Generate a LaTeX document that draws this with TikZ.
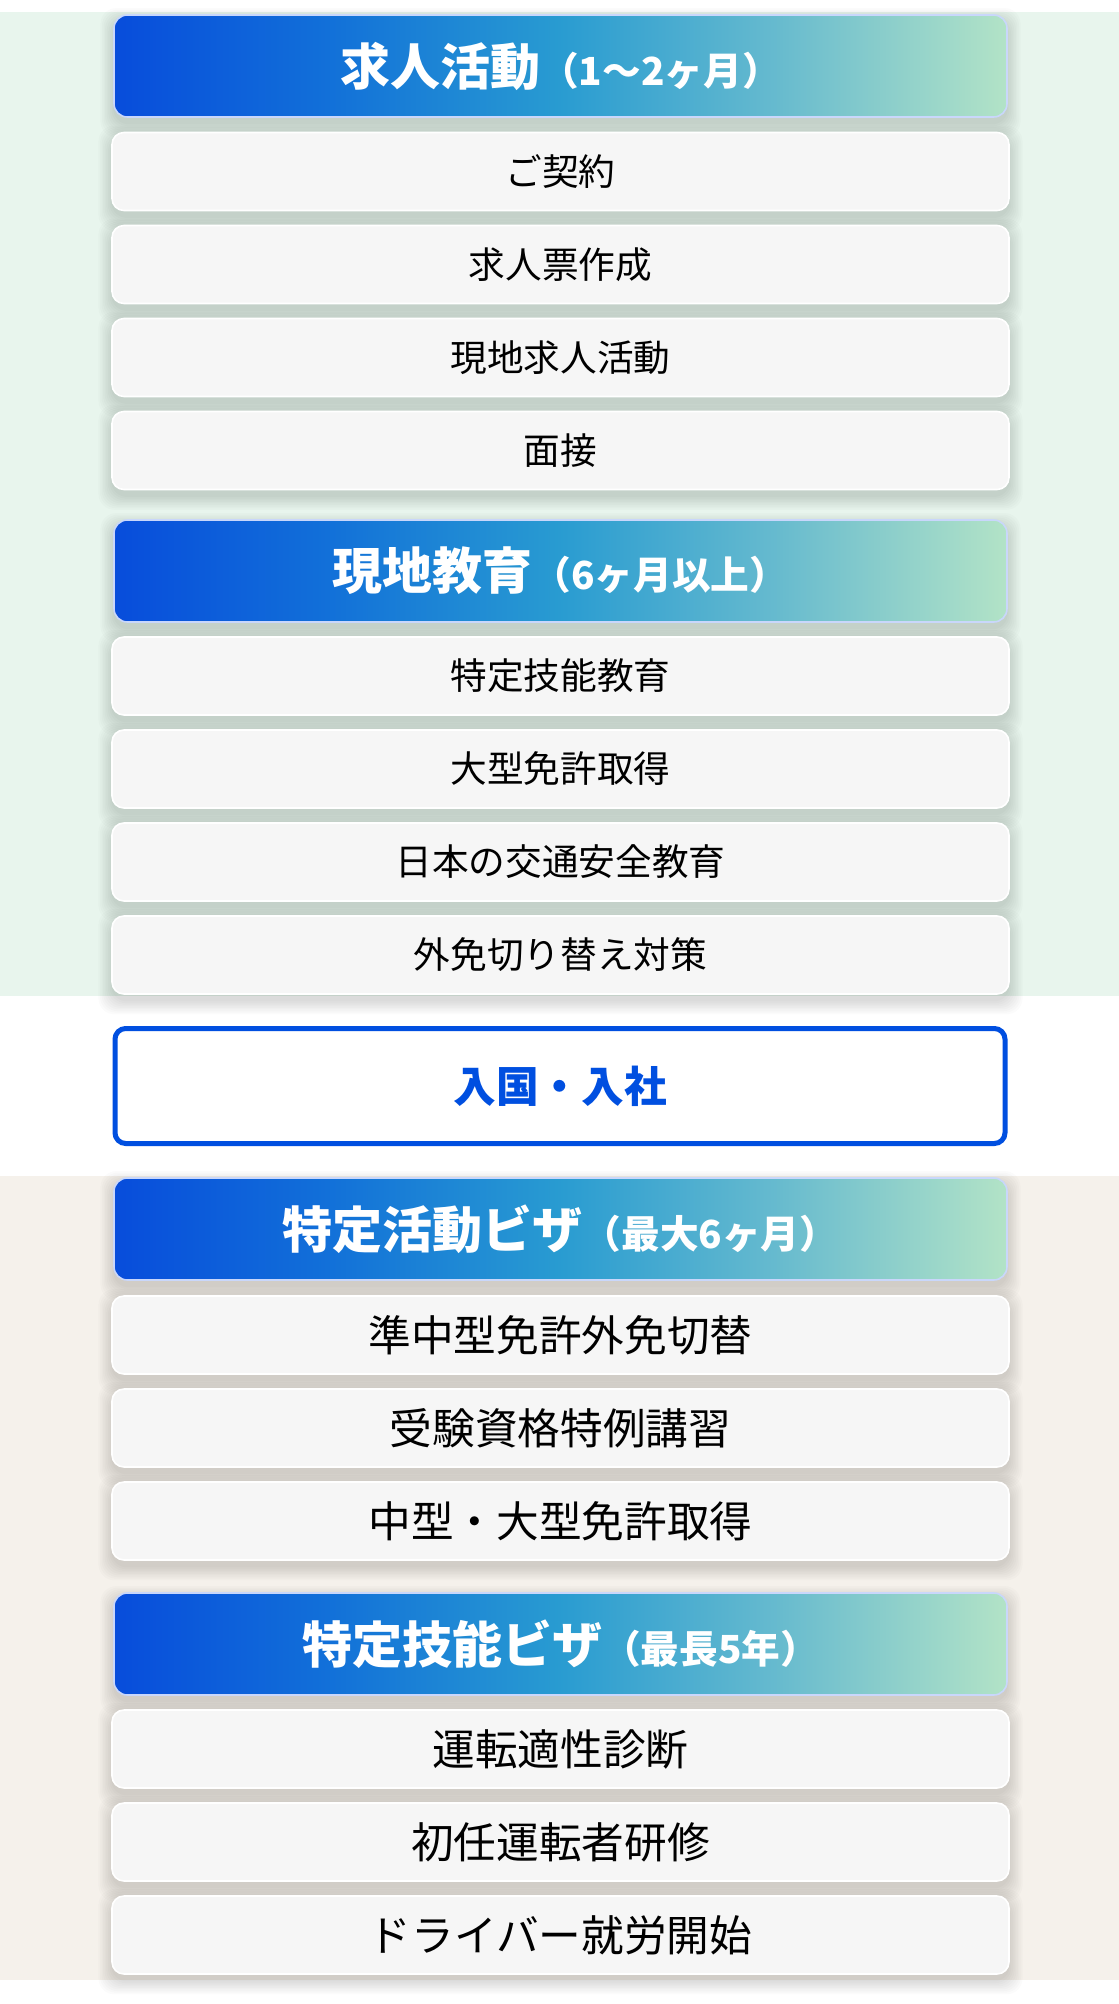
\documentclass[tikz,border=0pt]{standalone}
\usepackage{fontspec}
\setmainfont{Noto Sans CJK JP}
\usepackage{xcolor}
\usepackage{tikz}

\definecolor{bgmint}{HTML}{E8F5ED}
\definecolor{bgsand}{HTML}{F5F1EB}
\definecolor{glow}{HTML}{C9D7FB}
\definecolor{cardgray}{HTML}{F6F6F6}
\definecolor{entryblue}{HTML}{004FE0}
\pgfdeclarehorizontalshading{headfade}{100bp}{
    rgb(0bp)=(0.03,0.30,0.86); rgb(25bp)=(0.03,0.30,0.86);
    rgb(37bp)=(0.07,0.44,0.85); rgb(50bp)=(0.16,0.61,0.82);
    rgb(62bp)=(0.40,0.73,0.81); rgb(75bp)=(0.70,0.89,0.78);
    rgb(100bp)=(0.70,0.89,0.78)}
\pgfdeclarelayer{paper}
\pgfdeclarelayer{shade}
\pgfsetlayers{paper,shade,main}

\begin{document}
\begin{tikzpicture}[
    x=0.75pt, y=-0.75pt,
    head/.style={rectangle, rounded corners=10pt, minimum width=669.75pt, minimum height=76.5pt, inner sep=0pt,
        shading=headfade, draw=glow, line width=1.2pt,
        text=white, font=\bfseries\fontsize{37.5}{37.5}\selectfont},
    card/.style={rectangle, rounded corners=9pt, minimum width=672.75pt, minimum height=58.5pt, inner sep=0pt,
        fill=cardgray, draw=white, line width=1.2pt},
    small/.style={card, font=\fontsize{27.5}{27.5}\selectfont},
    large/.style={card, font=\fontsize{32}{32}\selectfont},
    entrybox/.style={rectangle, rounded corners=8pt, minimum width=667.5pt, minimum height=86.25pt, inner sep=0pt,
        fill=white, draw=entryblue, line width=3.75pt, text=entryblue, font=\bfseries\fontsize{32}{32}\selectfont},
    sub/.style={font=\bfseries\fontsize{29}{29}\selectfont},
    haze/.style={fill=black, opacity=0.017, rounded corners=12pt}
]
    \useasboundingbox (0,0) rectangle (1119,2004);
    \begin{pgfonlayer}{paper}
        \fill[white] (0,0) rectangle (1119,2004);
        \fill[bgmint] (0,12) rectangle (1119,996);
        \fill[bgsand] (0,1176) rectangle (1119,1980);
    \end{pgfonlayer}

    % before entry
    \node[head] (hd1) at (560.5,66) {求人活動{\fontsize{29}{29}\selectfont （1〜2ヶ月）}};
    \node[small] (job1) at (560.5,171.5) {ご契約};
    \node[small] (job2) at (560.5,264.5) {求人票作成};
    \node[small] (job3) at (560.5,357.5) {現地求人活動};
    \node[small] (job4) at (560.5,450.5) {面接};

    \node[head] (hd2) at (560.5,571) {現地教育{\fontsize{29}{29}\selectfont （6ヶ月以上）}};
    \node[small] (edu1) at (560.5,676) {特定技能教育};
    \node[small] (edu2) at (560.5,769) {大型免許取得};
    \node[small] (edu3) at (560.5,862) {日本の交通安全教育};
    \node[small] (edu4) at (560.5,955) {外免切り替え対策};

    \node[entrybox] (entry) at (560,1086) {入国・入社};

    % after entry
    \node[head] (hd3) at (560.5,1229) {特定活動ビザ{\fontsize{29}{29}\selectfont （最大6ヶ月）}};
    \node[large] (act1) at (560.5,1335) {準中型免許外免切替};
    \node[large] (act2) at (560.5,1428) {受験資格特例講習};
    \node[large] (act3) at (560.5,1521) {中型・大型免許取得};

    \node[head] (hd4) at (560.5,1644) {特定技能ビザ{\fontsize{29}{29}\selectfont （最長5年）}};
    \node[large] (ssw1) at (560.5,1749) {運転適性診断};
    \node[large] (ssw2) at (560.5,1842) {初任運転者研修};
    \node[large] (ssw3) at (560.5,1935) {ドライバー就労開始};

    % soft shadows under the cards
    \begin{pgfonlayer}{shade}
        \foreach \n in {hd1,job1,job2,job3,job4,hd2,edu1,edu2,edu3,edu4,hd3,act1,act2,act3,hd4,ssw1,ssw2,ssw3}
            \foreach \e in {0,1.2,...,9.6}
                \fill[haze] ([xshift=-\e pt, yshift=\e pt-5pt]\n.north west) rectangle ([xshift=\e pt, yshift=-\e pt-5pt]\n.south east);
    \end{pgfonlayer}
\end{tikzpicture}
\end{document}
